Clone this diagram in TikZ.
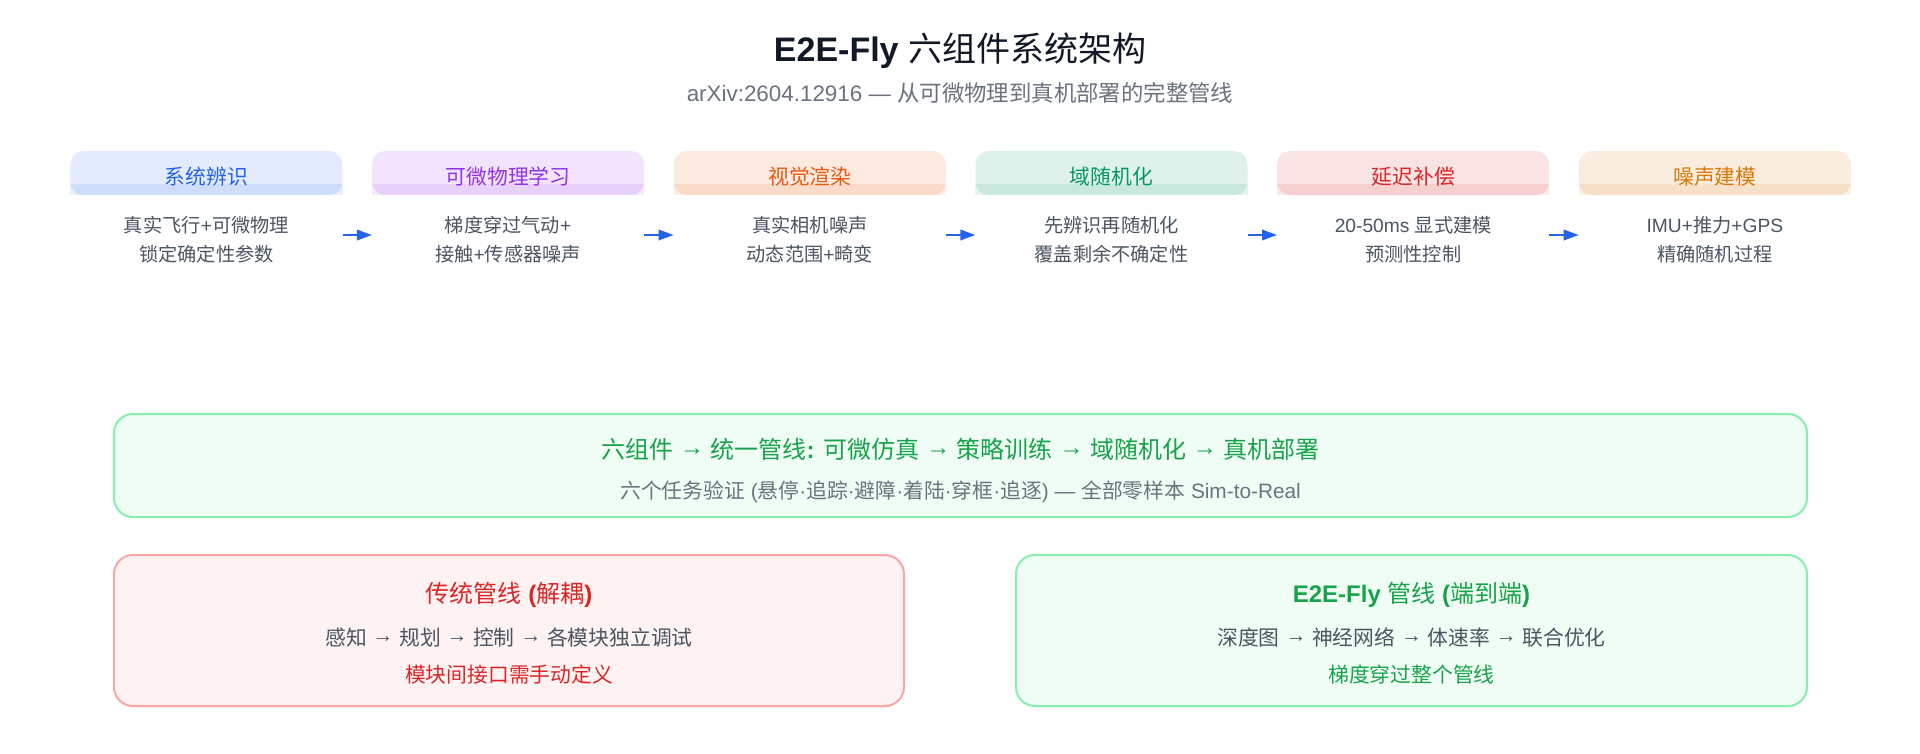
\documentclass[tikz,border=0pt]{standalone}
\usepackage{fontspec}
\usepackage{xcolor}
\usepackage{tikz}
\usetikzlibrary{arrows.meta,positioning}
\setmainfont{Liberation Sans}
\newfontfamily\cjkfont{Noto Sans CJK SC}
% CJK runs go to the CJK family, always regular weight
\chardef\cjkclass=7
\chardef\arrclass=8
\XeTeXinterchartokenstate=1
\count255="4E00
\loop\XeTeXcharclass\count255=\cjkclass
  \ifnum\count255<"9FFF \advance\count255 by 1 \repeat
\XeTeXcharclass"2192=\arrclass
\XeTeXinterchartoks 0 \cjkclass={\begingroup\mdseries\cjkfont}
\XeTeXinterchartoks 4095 \cjkclass={\begingroup\mdseries\cjkfont}
\XeTeXinterchartoks \cjkclass 0={\endgroup}
\XeTeXinterchartoks \cjkclass 4095={\endgroup}
% text arrows lifted to the middle of the CJK glyphs
\XeTeXinterchartoks 4095 \arrclass={\raise.1em\hbox\bgroup}
\XeTeXinterchartoks 0 \arrclass={\raise.1em\hbox\bgroup}
\XeTeXinterchartoks \arrclass 4095={\egroup}
\XeTeXinterchartoks \arrclass 0={\egroup}
\definecolor{ink}{HTML}{111827}
\definecolor{mute}{HTML}{6B7280}
\definecolor{textgray}{HTML}{4B5563}
\definecolor{sysid}{HTML}{2563EB}
\definecolor{diffph}{HTML}{9333EA}
\definecolor{render}{HTML}{EA580C}
\definecolor{domrand}{HTML}{059669}
\definecolor{latency}{HTML}{DC2626}
\definecolor{noise}{HTML}{D97706}
\definecolor{okgreen}{HTML}{16A34A}
\definecolor{okfill}{HTML}{F0FDF4}
\definecolor{okline}{HTML}{86EFAC}
\definecolor{badfill}{HTML}{FEF2F2}
\definecolor{badline}{HTML}{FCA5A5}
\tikzset{
  hdr/.style={rectangle, rounded corners=13pt, minimum width=272pt, minimum height=44pt,
              inner sep=0pt, fill=#1!13, text=#1, font=\fontsize{20.8}{25}\selectfont,
              text height=22pt, text depth=0pt},
  desc/.style={text=textgray, align=center, minimum width=272pt, inner sep=0pt,
               font=\fontsize{19.2}{29}\selectfont},
  flow/.style={-{Triangle[length=15pt, width=10.5pt]}, draw=sysid, line width=2pt},
  panel/.style={rectangle, rounded corners=19pt, line width=2pt, inner sep=0pt},
  ttl/.style={anchor=base, font=\fontsize{24}{28}\selectfont\bfseries},
  txt/.style={anchor=base, font=\fontsize{20.8}{25}\selectfont}
}
\begin{document}
\begin{tikzpicture}[x=1pt, y=-1pt]
  \fill[white] (0,0) rectangle (1920,753);
  \useasboundingbox (0,0) rectangle (1920,753);
  \node[anchor=base, text=ink, font=\fontsize{34}{40}\selectfont] (title) at (960,61) {\textbf{E2E-Fly} 六组件系统架构};
  \node[anchor=base, text=mute, font=\fontsize{22.4}{27}\selectfont] (sub) at (960,101) {arXiv:2604.12916 — 从可微物理到真机部署的完整管线};
  % six components
  \node[hdr=sysid] (h1) at (206.4,173) {系统辨识};
  \node[hdr=diffph, right=29.3pt of h1] (h2) {可微物理学习};
  \node[hdr=render, right=29.3pt of h2] (h3) {视觉渲染};
  \node[hdr=domrand, right=29.3pt of h3] (h4) {域随机化};
  \node[hdr=latency, right=29.3pt of h4] (h5) {延迟补偿};
  \node[hdr=noise, right=29.3pt of h5] (h6) {噪声建模};
  \foreach \n/\c in {h1/sysid,h2/diffph,h3/render,h4/domrand,h5/latency,h6/noise}
    \fill[\c, opacity=0.1] (\n.south west) rectangle ([yshift=11pt]\n.south east);
  \node[desc] (b1) at ([yshift=-67pt]h1.center) {真实飞行+可微物理\\锁定确定性参数};
  \node[desc] (b2) at ([yshift=-67pt]h2.center) {梯度穿过气动+\\接触+传感器噪声};
  \node[desc] (b3) at ([yshift=-67pt]h3.center) {真实相机噪声\\动态范围+畸变};
  \node[desc] (b4) at ([yshift=-67pt]h4.center) {先辨识再随机化\\覆盖剩余不确定性};
  \node[desc] (b5) at ([yshift=-67pt]h5.center) {20-50ms 显式建模\\预测性控制};
  \node[desc] (b6) at ([yshift=-67pt]h6.center) {IMU+推力+GPS\\精确随机过程};
  \foreach \a/\b in {b1/b2,b2/b3,b3/b4,b4/b5,b5/b6}
    \draw[flow] ([yshift=5pt]\a.east) -- ([yshift=5pt]\b.west);
  % unified pipeline
  \node[panel, draw=okline, fill=okfill, minimum width=1693pt, minimum height=103pt] (goal) at (960.5,465.5) {};
  \node[ttl, text=okgreen] (goalt) at (960.5,458) {六组件 → 统一管线: 可微仿真 → 策略训练 → 域随机化 → 真机部署};
  \node[txt, text=mute] (goals) at (960.5,498.5) {六个任务验证 (悬停·追踪·避障·着陆·穿框·追逐) — 全部零样本 Sim-to-Real};
  % classic vs end-to-end
  \node[panel, draw=badline, fill=badfill, minimum width=790pt, minimum height=151pt] (old) at (509,630.5) {};
  \node[ttl, text=latency] (oldt) at (509,602) {传统管线 (解耦)};
  \node[txt, text=textgray] (olds) at (509,645) {感知 → 规划 → 控制 → 各模块独立调试};
  \node[txt, text=latency] (oldn) at (509,682) {模块间接口需手动定义};
  \node[panel, draw=okline, fill=okfill, minimum width=791pt, minimum height=151pt] (new) at (1411.5,630.5) {};
  \node[ttl, text=okgreen] (newt) at (1411.5,602) {E2E-Fly 管线 (端到端)};
  \node[txt, text=textgray] (news) at (1411.5,645) {深度图 → 神经网络 → 体速率 → 联合优化};
  \node[txt, text=okgreen] (newn) at (1411.5,682) {梯度穿过整个管线};
\end{tikzpicture}
\end{document}
